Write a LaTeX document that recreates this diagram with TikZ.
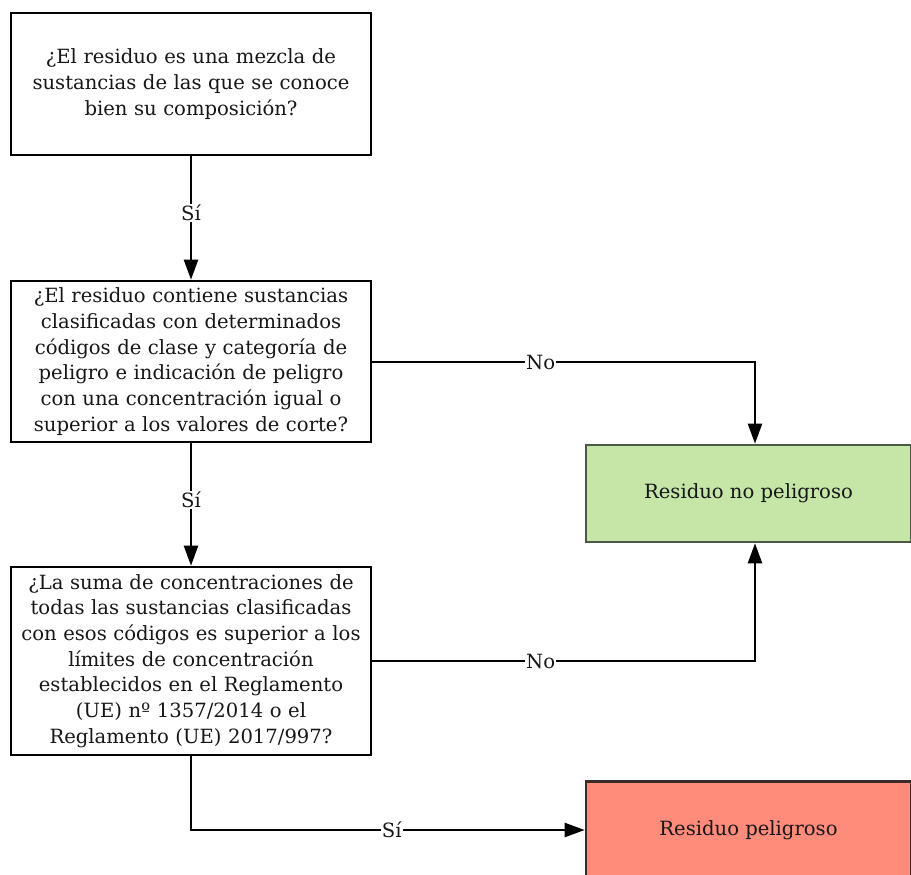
\documentclass[tikz,border=0pt]{standalone}
\usepackage{fontspec}
\setmainfont{DejaVu Serif}
\usetikzlibrary{arrows.meta}
\definecolor{txt}{HTML}{161616}
\definecolor{gfill}{HTML}{C6E6A8}
\definecolor{gdraw}{HTML}{4A5A44}
\definecolor{rfill}{HTML}{FF8B7B}
\definecolor{rdraw}{HTML}{3A2A28}
\tikzset{
  qbox/.style={draw=black, line width=2.6pt, minimum width=360pt, text width=356pt, align=center, inner sep=0pt, text=txt,
     font=\fontsize{19.6}{25.7}\selectfont},
  rbox/.style={line width=2.6pt, minimum width=325pt, minimum height=97pt, inner sep=0pt, text=txt, font=\fontsize{19.6}{25.7}\selectfont},
  conn/.style={line width=2.4pt, line join=miter, -{Triangle[length=20pt,width=14pt]}},
  lbl/.style={fill=white, inner sep=1pt, text=txt, font=\fontsize{19.6}{22}\selectfont}
}
\begin{document}
\begin{tikzpicture}[x=1pt,y=-1pt]
\useasboundingbox (0,0) rectangle (911,875);
\node[qbox, minimum height=142pt] (q1) at (191,84) {¿El residuo es una mezcla de\\ sustancias de las que se conoce\\ bien su composición?};
\node[qbox, minimum height=161pt] (q2) at (191,361.5) {¿El residuo contiene sustancias\\ clasificadas con determinados\\ códigos de clase y categoría de\\ peligro e indicación de peligro\\ con una concentración igual o\\ superior a los valores de corte?};
\node[qbox, minimum height=188pt] (q3) at (191,661) {¿La suma de concentraciones de\\ todas las sustancias clasificadas\\ con esos códigos es superior a los\\ límites de concentración\\ establecidos en el Reglamento\\ (UE) nº 1357/2014 o el\\ Reglamento (UE) 2017/997?};
\node[rbox, draw=gdraw, fill=gfill] (np) at (748.5,493.5) {Residuo no peligroso};
\node[rbox, draw=rdraw, fill=rfill] (pe) at (748.5,830) {Residuo peligroso};
\coordinate (c1) at (755,362);
\coordinate (c2) at (755,661);
\coordinate (c3) at (191,830);
\draw[conn] (q1) -- node[lbl, pos=0.46]{Sí} (q2);
\draw[conn] (q2) -- node[lbl, pos=0.46]{Sí} (q3);
\draw[conn] (q2.east |- c1) -- node[lbl, pos=0.44]{No} (c1) -- (c1 |- np.north);
\draw[conn] (q3.east |- c2) -- node[lbl, pos=0.44]{No} (c2) -- (c2 |- np.south);
\draw[conn] (q3.south -| c3) -- (c3) -- node[lbl, pos=0.51]{Sí} (pe.west);
\end{tikzpicture}
\end{document}
